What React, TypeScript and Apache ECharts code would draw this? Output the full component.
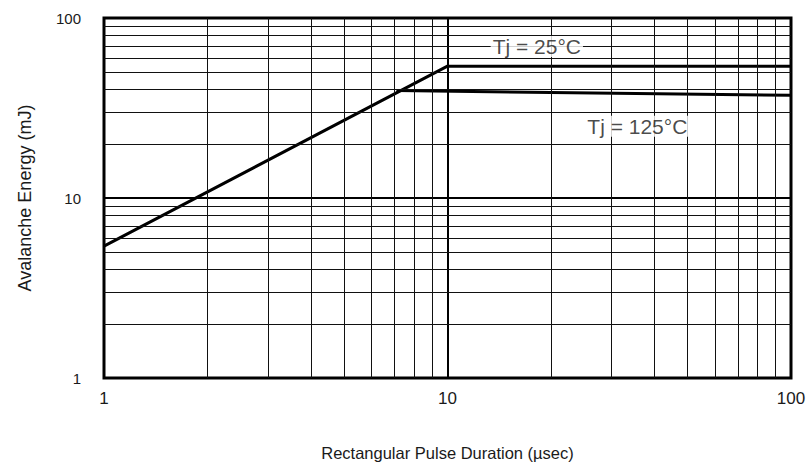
import React, { useEffect, useRef } from "react";
import * as echarts from "echarts";

const tj25Data: [number, number][] = [
  [1, 5.4],
  [10, 54],
  [100, 54],
];
const tj125Data: [number, number][] = [
  [7.1, 39.5],
  [100, 37.2],
];
const xMinorGrid = [2, 3, 4, 5, 6, 7, 8, 9, 20, 30, 40, 50, 60, 70, 80, 90];
const yMinorGrid = [2, 3, 4, 5, 6, 7, 8, 9, 20, 30, 40, 50, 60, 70, 80, 90];
const curveLabels = [
  { name: "Tj = 25°C", value: [18.2, 69.5] },
  { name: "Tj = 125°C", value: [35.7, 25.0] },
];

const FONT = "Liberation Sans, Arial, sans-serif";

export default function App() {
  const ref = useRef<HTMLDivElement>(null);
  useEffect(() => {
    if (!ref.current) return;
    const chart = echarts.init(ref.current, null, { renderer: "svg" });
    chart.setOption({
      animation: false,
      backgroundColor: "#fff",
      grid: {
        left: 104,
        right: 20,
        top: 18,
        bottom: 90,
        show: true,
        borderColor: "#000",
        borderWidth: 3,
        backgroundColor: "transparent",
      },
      xAxis: {
        type: "log",
        logBase: 10,
        min: 1,
        max: 100,
        name: "Rectangular Pulse Duration (µsec)",
        nameLocation: "middle",
        nameGap: 66,
        nameTextStyle: { fontFamily: FONT, fontSize: 16.5, color: "#1a1a1a" },
        axisLine: { show: false },
        axisTick: { show: false },
        axisLabel: { fontFamily: FONT, fontSize: 17, color: "#1a1a1a", margin: 12 },
        splitLine: { show: true, lineStyle: { color: "#000", width: 2 } },
      },
      yAxis: {
        type: "log",
        logBase: 10,
        min: 1,
        max: 100,
        name: "Avalanche Energy (mJ)",
        nameLocation: "middle",
        nameGap: 70,
        nameTextStyle: { fontFamily: FONT, fontSize: 18, color: "#1a1a1a" },
        axisLine: { show: false },
        axisTick: { show: false },
        axisLabel: { fontFamily: FONT, fontSize: 15, color: "#1a1a1a", margin: 23 },
        splitLine: { show: true, lineStyle: { color: "#000", width: 2 } },
      },
      series: [
        {
          type: "line",
          data: [],
          z: 1,
          silent: true,
          markLine: {
            silent: true,
            symbol: ["none", "none"],
            label: { show: false },
            lineStyle: { color: "#111", width: 1, type: "solid" },
            data: [
              ...xMinorGrid.map((v) => ({ xAxis: v })),
              ...yMinorGrid.map((v) => ({ yAxis: v })),
            ],
          },
        },
        {
          type: "line",
          name: "Tj = 25°C",
          data: tj25Data,
          showSymbol: false,
          symbol: "none",
          z: 3,
          lineStyle: { color: "#000", width: 3 },
        },
        {
          type: "line",
          name: "Tj = 125°C",
          data: tj125Data,
          showSymbol: false,
          symbol: "none",
          z: 3,
          lineStyle: { color: "#000", width: 3 },
        },
        {
          type: "scatter",
          data: curveLabels,
          symbolSize: 0,
          z: 5,
          label: {
            show: true,
            position: "inside",
            formatter: (p: any) => p.name,
            fontFamily: FONT,
            fontSize: 21,
            color: "#1a1a1a",
            backgroundColor: "#fff",
            padding: [0, 2],
          },
        },
      ],
    });
    return () => chart.dispose();
  }, []);
  return (
    <div
      ref={ref}
      style={{ position: "absolute", left: 0, top: 0, width: 811, height: 468 }}
    />
  );
}
